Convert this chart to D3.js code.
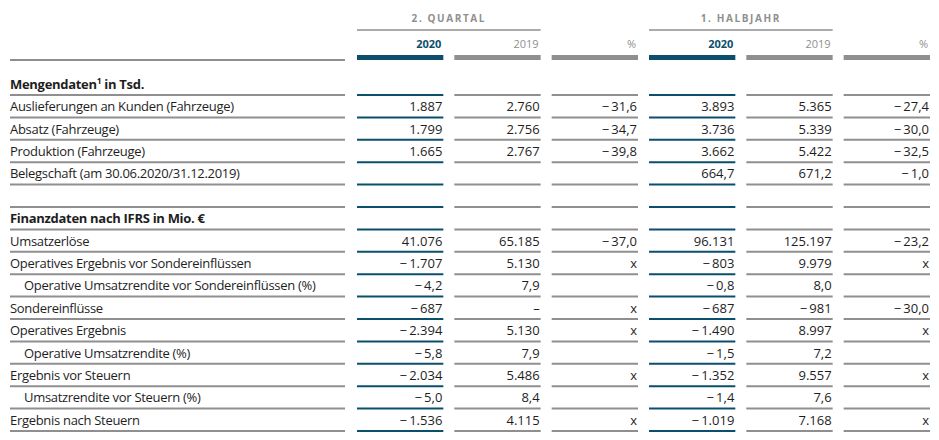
<!DOCTYPE html>
<html><head><meta charset="utf-8">
<script src="https://cdn.jsdelivr.net/npm/d3@7"></script>
<style>
html,body{margin:0;padding:0;background:#fff;}
svg{display:block;font-family:"Open Sans",sans-serif;}
</style></head>
<body><svg id="c" width="939" height="440"></svg>
<script>
// ---- data ----
const groups = ["2. QUARTAL", "1. HALBJAHR"];
const columns = ["2020", "2019", "%", "2020", "2019", "%"];
const rowLabels = [
  "Mengendaten¹ in Tsd.",
  "Auslieferungen an Kunden (Fahrzeuge)",
  "Absatz (Fahrzeuge)",
  "Produktion (Fahrzeuge)",
  "Belegschaft (am 30.06.2020/31.12.2019)",
  "",
  "Finanzdaten nach IFRS in Mio. €",
  "Umsatzerlöse",
  "Operatives Ergebnis vor Sondereinflüssen",
  "Operative Umsatzrendite vor Sondereinflüssen (%)",
  "Sondereinflüsse",
  "Operatives Ergebnis",
  "Operative Umsatzrendite (%)",
  "Ergebnis vor Steuern",
  "Umsatzrendite vor Steuern (%)",
  "Ergebnis nach Steuern"
];
const rowType = ["head","row","row","row","row","blank","head","row","row","sub","row","row","sub","row","sub","row"];
const rowDecimals = [0,0,0,0,1,0,0,0,0,1,0,0,1,0,1,0];
const q2_2020 = [null, 1887, 1799, 1665, null, null, null, 41076, -1707, -4.2, -687, -2394, -5.8, -2034, -5.0, -1536];
const q2_2019 = [null, 2760, 2756, 2767, null, null, null, 65185, 5130, 7.9, "–", 5130, 7.9, 5486, 8.4, 4115];
const q2_pct  = [null, -31.6, -34.7, -39.8, null, null, null, -37.0, "x", null, "x", "x", null, "x", null, "x"];
const h1_2020 = [null, 3893, 3736, 3662, 664.7, null, null, 96131, -803, -0.8, -687, -1490, -1.5, -1352, -1.4, -1019];
const h1_2019 = [null, 5365, 5339, 5422, 671.2, null, null, 125197, 9979, 8.0, -981, 8997, 7.2, 9557, 7.6, 7168];
const h1_pct  = [null, -27.4, -30.0, -32.5, -1.0, null, null, -23.2, "x", null, -30.0, "x", null, "x", null, "x"];

const series = [q2_2020, q2_2019, q2_pct, h1_2020, h1_2019, h1_pct];
const colIsPct = [false, false, true, false, false, true];

// ---- layout ----
const svg = d3.select("#c");
const TEAL = "#0b4f6c", GRAY = "#8f8f8f", TXT = "#1e1e1e";
const loc = d3.formatLocale({decimal: ",", thousands: ".", grouping: [3], currency: ["", "€"]});
function fmt(v, dec) {
  if (v === null || v === undefined) return "";
  if (typeof v === "string") return v;
  const s = loc.format(",." + dec + "f")(Math.abs(v));
  return v < 0 ? "\u2212\u2009" + s : s;
}

const colIdx = d3.range(columns.length);
const x = d3.scaleBand().domain(colIdx).range([357, 930]).paddingInner(0.113).paddingOuter(0);
const y = d3.scaleBand().domain(d3.range(rowLabels.length)).range([72.6, 431]).padding(0);
const labelX0 = 10, labelX1 = 345;
const colColor = i => (i === 0 || i === 3) ? TEAL : GRAY;
const FS = 13;

// group headers
groups.forEach((g, gi) => {
  const a = x(gi * 3), b = x(gi * 3 + 1) + x.bandwidth();
  svg.append("text").attr("x", (a + b) / 2).attr("y", 22).attr("text-anchor", "middle")
    .attr("font-size", 10).attr("font-weight", 700).attr("letter-spacing", 1.6)
    .attr("fill", GRAY).text(g);
  svg.append("line").attr("x1", a).attr("x2", b).attr("y1", 30).attr("y2", 30)
    .attr("stroke", GRAY).attr("stroke-width", 1.5);
});

// column headers
colIdx.forEach(i => {
  const hi = (i === 0 || i === 3);
  svg.append("text").attr("x", x(i) + x.bandwidth() - 2).attr("y", 48).attr("text-anchor", "end")
    .attr("font-size", 11).attr("font-weight", hi ? 700 : 400)
    .attr("fill", hi ? TEAL : GRAY).text(columns[i]);
  svg.append("rect").attr("x", x(i)).attr("y", 55).attr("width", x.bandwidth()).attr("height", 5)
    .attr("fill", colColor(i));
});
svg.append("line").attr("x1", labelX0).attr("x2", labelX1).attr("y1", 60).attr("y2", 60)
  .attr("stroke", GRAY).attr("stroke-width", 2);

// row rules
rowLabels.forEach((_, r) => {
  const yb = y(r) + y.bandwidth();
  svg.append("line").attr("x1", labelX0).attr("x2", labelX1).attr("y1", yb).attr("y2", yb)
    .attr("stroke", GRAY).attr("stroke-width", 2);
  colIdx.forEach(i => {
    svg.append("line").attr("x1", x(i)).attr("x2", x(i) + x.bandwidth()).attr("y1", yb).attr("y2", yb)
      .attr("stroke", colColor(i)).attr("stroke-width", 2);
  });
});

// labels
rowLabels.forEach((lab, r) => {
  if (!lab) return;
  const t = svg.append("text")
    .attr("x", rowType[r] === "sub" ? 24 : labelX0)
    .attr("y", y(r) + y.bandwidth() / 2 + 5)
    .attr("font-size", FS).attr("fill", TXT).attr("letter-spacing", -0.3)
    .attr("font-weight", rowType[r] === "head" ? 700 : 400);
  if (lab.includes("¹")) {
    const parts = lab.split("¹");
    t.append("tspan").text(parts[0]);
    t.append("tspan").attr("font-size", 8.5).attr("dy", -5).text("1");
    t.append("tspan").attr("dy", 5).text(parts[1]);
  } else t.text(lab);
});

// values
series.forEach((s, i) => {
  svg.append("g").selectAll("text").data(s).join("text")
    .attr("x", x(i) + x.bandwidth() - 1)
    .attr("y", (d, r) => y(r) + y.bandwidth() / 2 + 5)
    .attr("text-anchor", "end").attr("font-size", FS).attr("fill", TXT)
    .text((d, r) => fmt(d, colIsPct[i] ? 1 : rowDecimals[r]));
});
</script></body></html>
